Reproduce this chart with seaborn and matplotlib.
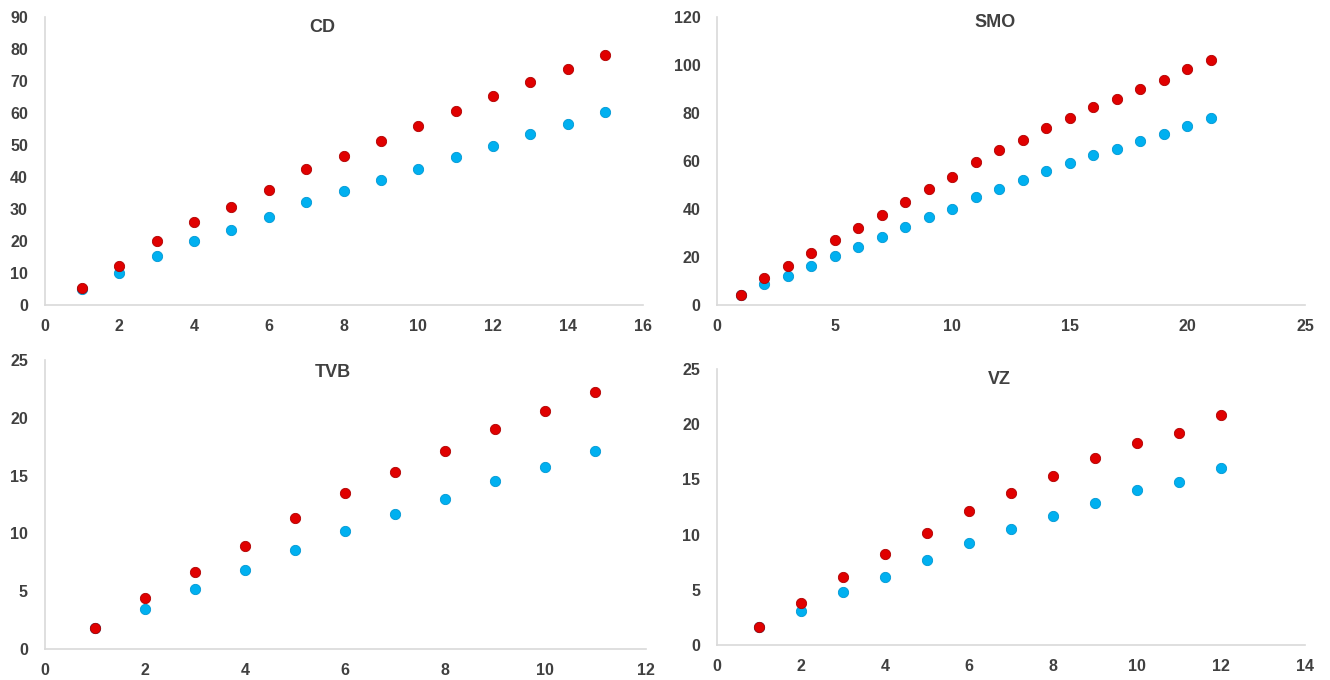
import numpy as np
import pandas as pd
import matplotlib
matplotlib.use("Agg")
import matplotlib.pyplot as plt
import seaborn as sns

# ==== data ====
cd_x = list(range(1, 16))
cd_red = [5.3, 12.3, 19.9, 25.8, 30.6, 35.9, 42.4, 46.6, 51.1, 55.9, 60.7, 65.2, 69.7, 73.9, 78.2]
cd_blue = [5.1, 9.9, 15.4, 19.9, 23.5, 27.5, 32.3, 35.6, 39.0, 42.6, 46.3, 49.7, 53.4, 56.5, 60.2]

smo_x = list(range(1, 22))
smo_red = [4.0, 11.2, 16.1, 21.6, 27.2, 32.2, 37.7, 42.9, 48.4, 53.4, 59.7, 64.5, 68.7, 73.8,
           78.0, 82.5, 85.9, 90.0, 93.6, 98.2, 102.2]
smo_blue = [4.0, 8.9, 12.2, 16.4, 20.4, 24.1, 28.3, 32.5, 36.5, 40.2, 45.1, 48.4, 51.9, 55.9,
            59.2, 62.3, 64.9, 68.3, 71.3, 74.6, 78.0]

tvb_x = list(range(1, 12))
tvb_red = [1.8, 4.4, 6.7, 8.9, 11.3, 13.5, 15.3, 17.1, 19.0, 20.6, 22.2]
tvb_blue = [1.8, 3.5, 5.2, 6.8, 8.6, 10.2, 11.7, 13.0, 14.5, 15.7, 17.1]

vz_x = list(range(1, 13))
vz_red = [1.6, 3.8, 6.2, 8.2, 10.1, 12.1, 13.8, 15.3, 16.9, 18.3, 19.2, 20.8]
vz_blue = [1.6, 3.1, 4.8, 6.2, 7.7, 9.2, 10.5, 11.7, 12.9, 14.0, 14.8, 16.0]

panels = [
    # name, x, red, blue, xmax, xstep, ymax, ystep, rect, title pos, ticks
    ("CD", cd_x, cd_red, cd_blue, 16, 2, 90, 10, [0.0335, 0.5515, 0.4496, 0.4235], (0.465, 0.962), False),
    ("SMO", smo_x, smo_red, smo_blue, 25, 5, 120, 20, [0.5391, 0.5515, 0.4421, 0.4235], (0.473, 0.98), False),
    ("TVB", tvb_x, tvb_red, tvb_blue, 12, 2, 25, 5, [0.0335, 0.0456, 0.4519, 0.425], (0.479, 0.955), False),
    ("VZ", vz_x, vz_red, vz_blue, 14, 2, 25, 5, [0.5391, 0.0515, 0.4421, 0.406], (0.481, 0.96), True),
]

sns.set_style("white")
plt.rcParams["font.family"] = ["Liberation Sans", "DejaVu Sans"]

RED = "#e00000"
BLUE = "#00b0f0"
GRID = "#d9d9d9"
TXT = "#404040"

fig = plt.figure(figsize=(13.3, 6.8), dpi=100)

for name, x, red, blue, xmax, xstep, ymax, ystep, rect, tpos, ticks in panels:
    ax = fig.add_axes(rect)
    df = pd.DataFrame({"x": x, "red": red, "blue": blue})
    sns.scatterplot(data=df, x="x", y="blue", ax=ax, color=BLUE, s=55,
                    edgecolor="#0098d4", linewidth=0.6, zorder=3)
    sns.scatterplot(data=df, x="x", y="red", ax=ax, color=RED, s=55,
                    edgecolor="#b00000", linewidth=0.6, zorder=4)
    ax.set_xlim(0, xmax)
    ax.set_ylim(0, ymax)
    ax.set_xticks(np.arange(0, xmax + 1, xstep))
    ax.set_yticks(np.arange(0, ymax + 1, ystep))
    ax.set_xlabel("")
    ax.set_ylabel("")
    for side in ["top", "right"]:
        ax.spines[side].set_visible(False)
    for side in ["left", "bottom"]:
        ax.spines[side].set_color(GRID)
        ax.spines[side].set_linewidth(1.2)
    tl = 4 if ticks else 0
    ax.tick_params(axis="both", labelsize=11.5, colors=TXT, length=tl, width=1)
    ax.tick_params(axis="both", color=GRID)
    ax.tick_params(axis="x", pad=10 - tl)
    ax.tick_params(axis="y", pad=12 - tl)
    for lab in ax.get_xticklabels() + ax.get_yticklabels():
        lab.set_fontweight("bold")
    ax.text(tpos[0], tpos[1], name, transform=ax.transAxes, ha="center", va="center",
            fontsize=13, fontweight="bold", color=TXT)

fig.savefig("out.png", dpi=100)
